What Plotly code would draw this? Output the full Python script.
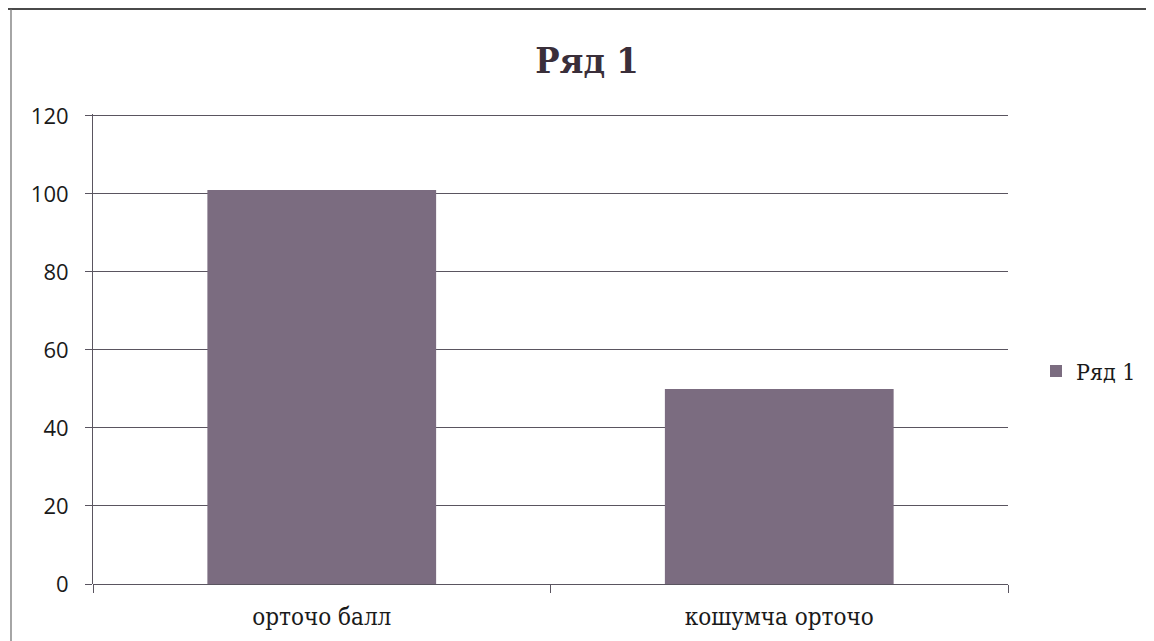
import plotly.graph_objects as go

categories = ["орточо балл", "кошумча орточо"]
values = [101, 50]
series_name = "Ряд 1"
y_ticks = [0, 20, 40, 60, 80, 100, 120]

# the page body adds an 8px offset; work in figure coordinates
OFF = 8
W, H = 1154 - OFF, 641 - OFF
L, R, T, B = 93 - OFF, 1154 - 1008, 114 - OFF, 641 - 584
pw, ph = W - L - R, H - T - B


def px(x):
    return (x - OFF - L) / pw


def py(y):
    return (H - B - (y - OFF)) / ph


fig = go.Figure()
fig.add_trace(go.Bar(
    x=categories, y=values, name=series_name,
    marker=dict(color="#7b6c80", line=dict(width=0)),
    width=0.5, showlegend=True,
))

line_col = "#5a5560"
shapes = [
    dict(type="line", xref="paper", yref="paper", x0=px(OFF), x1=px(1154), y0=py(9), y1=py(9),
         line=dict(color="#4a4a4a", width=2)),
    dict(type="line", xref="paper", yref="paper", x0=px(11), x1=px(11), y0=py(9), y1=py(641),
         line=dict(color="#6a6a6a", width=1.2)),
]

fig.update_layout(
    width=W, height=H,
    margin=dict(l=L, r=R, t=T, b=B, autoexpand=False),
    paper_bgcolor="white", plot_bgcolor="white",
    title=dict(text="<b>Ряд 1</b>", x=(587 - OFF) / W, xanchor="center",
               y=1 - (60 - OFF) / H, yanchor="middle",
               font=dict(family="DejaVu Serif Condensed, DejaVu Serif", size=36, color="#3a2f3a")),
    xaxis=dict(
        type="category", showgrid=False, showline=False, automargin=False,
        ticks="outside", tickson="boundaries", ticklen=8, tickcolor=line_col,
        ticklabelstandoff=16,
        tickfont=dict(family="DejaVu Serif Condensed, Liberation Serif", size=24, color="#1a1a1a"),
        range=[-0.5, 1.5],
    ),
    yaxis=dict(
        range=[0, 120.5], tickvals=y_ticks, showgrid=True, gridcolor=line_col, gridwidth=1,
        showline=True, linecolor=line_col, linewidth=1, automargin=False,
        ticks="outside", ticklen=7, tickcolor=line_col,
        ticklabelstandoff=12,
        tickfont=dict(family="Open Sans, DejaVu Sans", size=22, color="#1a1a1a"),
        zeroline=True, zerolinecolor=line_col, zerolinewidth=1,
    ),
    legend=dict(x=px(1036), y=py(371), xanchor="left", yanchor="middle",
                font=dict(family="DejaVu Serif Condensed, Liberation Serif", size=23, color="#1a1a1a"),
                itemwidth=30, bgcolor="rgba(0,0,0,0)"),
    shapes=shapes,
    bargap=0.5,
)

fig.write_html("out.html")
